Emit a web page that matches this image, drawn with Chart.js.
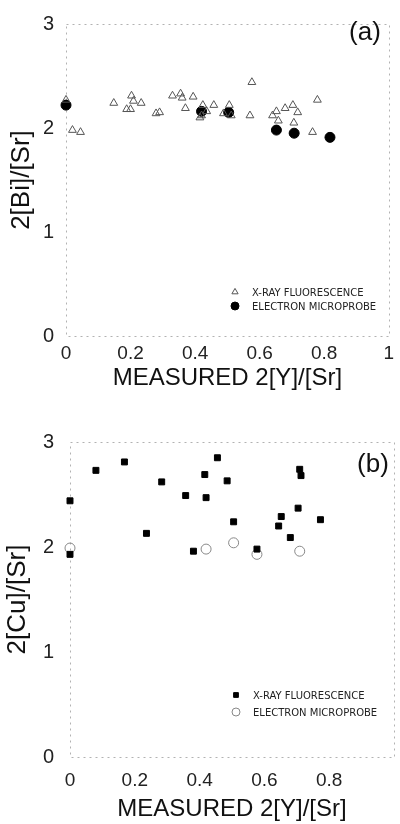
<!DOCTYPE html>
<html>
<head>
<meta charset="utf-8">
<script src="https://cdn.jsdelivr.net/npm/chart.js@4.4.1/dist/chart.umd.min.js"></script>
<style>
  html, body { margin: 0; padding: 0; background: #fff; }
  .panel { width: 400px; height: 412px; }
</style>
</head>
<body>
<div class="panel"><canvas id="chartA" width="400" height="412"></canvas></div>
<div class="panel"><canvas id="chartB" width="400" height="412"></canvas></div>
<script>
// (a) 2[Bi]/[Sr] vs measured 2[Y]/[Sr]
const xrfBiX = [0, 0.02, 0.045, 0.148, 0.188, 0.2, 0.203, 0.209, 0.233, 0.279, 0.29, 0.33, 0.355, 0.36, 0.37,
  0.394, 0.415, 0.42, 0.424, 0.436, 0.458, 0.488, 0.506, 0.512, 0.57, 0.576, 0.64, 0.652, 0.658, 0.679,
  0.703, 0.706, 0.718, 0.764, 0.779];
const xrfBiY = [2.27, 1.98, 1.96, 2.24, 2.18, 2.18, 2.31, 2.26, 2.24, 2.14, 2.15, 2.31, 2.33, 2.29, 2.19,
  2.30, 2.10, 2.12, 2.22, 2.16, 2.22, 2.14, 2.22, 2.12, 2.12, 2.44, 2.12, 2.16, 2.07, 2.19,
  2.22, 2.05, 2.15, 1.96, 2.27];
const empBiX = [0, 0.42, 0.504, 0.652, 0.707, 0.818];
const empBiY = [2.22, 2.16, 2.15, 1.98, 1.95, 1.91];

// (b) 2[Cu]/[Sr] vs measured 2[Y]/[Sr]
const xrfCuX = [0, 0, 0.08, 0.168, 0.236, 0.283, 0.357, 0.381, 0.416, 0.42, 0.455, 0.485, 0.505, 0.577,
  0.644, 0.652, 0.68, 0.704, 0.709, 0.713, 0.773];
const xrfCuY = [2.44, 1.93, 2.73, 2.81, 2.13, 2.62, 2.49, 1.96, 2.69, 2.47, 2.85, 2.63, 2.24, 1.98,
  2.20, 2.29, 2.09, 2.37, 2.74, 2.68, 2.26];
const empCuX = [0, 0.42, 0.505, 0.577, 0.709];
const empCuY = [1.99, 1.98, 2.04, 1.93, 1.96];

const xTicks = [0, 0.2, 0.4, 0.6, 0.8, 1];
const yTicks = [0, 1, 2, 3];
const seriesNames = ['X-RAY FLUORESCENCE', 'ELECTRON MICROPROBE'];

const toPoints = (xs, ys) => xs.map((x, i) => ({ x: x, y: ys[i] }));

// dotted frame around the plot area
const framePlugin = {
  id: 'frame',
  beforeDatasetsDraw(chart) {
    const { ctx, chartArea: a } = chart;
    ctx.save();
    ctx.strokeStyle = 'rgba(0,0,0,0.3)';
    ctx.lineWidth = 1;
    ctx.setLineDash([2, 4]);
    ctx.strokeRect(Math.round(a.left) + 0.5, Math.round(a.top) + 0.5, Math.round(a.width), Math.round(a.height));
    ctx.restore();
  }
};

// panel tag "(a)" / "(b)" and the small in-plot legend
const panelPlugin = {
  id: 'panel',
  afterDraw(chart, args, opts) {
    const ctx = chart.ctx;
    ctx.save();
    ctx.fillStyle = '#111';
    ctx.font = '26px "Liberation Sans", Arial, sans-serif';
    ctx.textAlign = 'center';
    ctx.textBaseline = 'middle';
    ctx.fillText(opts.tag, opts.tagX, opts.tagY);

    ctx.font = '10px "DejaVu Sans", sans-serif';
    ctx.textAlign = 'left';
    chart.data.datasets.forEach((ds, i) => {
      const y = opts.legendY + i * opts.legendGap;
      ctx.save();
      ctx.fillStyle = ds.backgroundColor;
      ctx.strokeStyle = ds.borderColor;
      ctx.lineWidth = ds.borderWidth;
      Chart.helpers.drawPoint(ctx, {
        pointStyle: ds.pointStyle,
        radius: ds.pointRadius * 0.8,
        rotation: 0,
        borderWidth: ds.borderWidth
      }, opts.legendX, y);
      ctx.restore();
      ctx.fillStyle = '#222';
      ctx.fillText(ds.label, opts.legendX + 17, y + 1);
    });
    ctx.restore();
  }
};

function axisFont(size) {
  return { family: '"Liberation Sans", Arial, sans-serif', size: size, weight: 'normal' };
}

function makeConfig(datasets, p) {
  return {
    type: 'scatter',
    data: { datasets: datasets },
    plugins: [framePlugin, panelPlugin],
    options: {
      responsive: false,
      animation: false,
      layout: { padding: { top: p.top, right: p.right, left: 0, bottom: 0 } },
      scales: {
        x: {
          type: 'linear',
          min: 0,
          max: 1,
          afterBuildTicks: (s) => { s.ticks = xTicks.map(v => ({ value: v })); },
          afterFit: (s) => { s.height = p.xHeight; },
          grid: { display: false, drawTicks: false },
          border: { display: false },
          ticks: {
            padding: p.xTickPad,
            color: '#222',
            font: axisFont(19),
            maxRotation: 0,
            callback: (v) => (v > p.xLast ? null : String(v))
          },
          title: {
            display: true,
            text: 'MEASURED 2[Y]/[Sr]',
            color: '#111',
            font: axisFont(24),
            padding: { top: 0, bottom: p.xTitlePad }
          }
        },
        y: {
          type: 'linear',
          min: 0,
          max: 3,
          afterBuildTicks: (s) => { s.ticks = yTicks.map(v => ({ value: v })); },
          afterFit: (s) => { s.width = p.yWidth; },
          grid: { display: false, drawTicks: false },
          border: { display: false },
          ticks: { padding: p.yTickPad, color: '#222', font: axisFont(20) },
          title: {
            display: true,
            text: p.yTitle,
            color: '#111',
            font: axisFont(26),
            padding: { top: p.yTitlePad, bottom: 0 }
          }
        }
      },
      plugins: {
        legend: { display: false },
        tooltip: { enabled: false },
        panel: p.panel
      }
    }
  };
}

const chartA = new Chart(document.getElementById('chartA').getContext('2d'), makeConfig([
  {
    label: seriesNames[0],
    data: toPoints(xrfBiX, xrfBiY),
    pointStyle: 'triangle',
    pointRadius: 4.5,
    backgroundColor: 'rgba(255,255,255,0)',
    borderColor: '#555',
    borderWidth: 1,
    clip: false
  },
  {
    label: seriesNames[1],
    data: toPoints(empBiX, empBiY),
    pointStyle: 'circle',
    pointRadius: 5,
    backgroundColor: '#000',
    borderColor: '#000',
    borderWidth: 1,
    clip: false
  }
], {
  top: 16, right: 4, xHeight: 76, yWidth: 66,
  xTickPad: 6, xTitlePad: 19, yTickPad: 12, yTitlePad: 6, xLast: 1,
  yTitle: '2[Bi]/[Sr]',
  panel: { tag: '(a)', tagX: 365, tagY: 33, legendX: 235, legendY: 292, legendGap: 14 }
}));

const chartB = new Chart(document.getElementById('chartB').getContext('2d'), makeConfig([
  {
    label: seriesNames[0],
    data: toPoints(xrfCuX, xrfCuY),
    pointStyle: 'rect',
    pointRadius: 4.2,
    backgroundColor: '#000',
    borderColor: '#000',
    borderWidth: 1,
    clip: false
  },
  {
    label: seriesNames[1],
    data: toPoints(empCuX, empCuY),
    pointStyle: 'circle',
    pointRadius: 5,
    backgroundColor: 'rgba(255,255,255,0)',
    borderColor: '#888',
    borderWidth: 1,
    clip: false
  }
], {
  top: 30, right: 3, xHeight: 67, yWidth: 70,
  xTickPad: 12, xTitlePad: 0, yTickPad: 16, yTitlePad: 2, xLast: 0.9,
  yTitle: '2[Cu]/[Sr]',
  panel: { tag: '(b)', tagX: 373, tagY: 53, legendX: 236, legendY: 283, legendGap: 17 }
}));
</script>
</body>
</html>
